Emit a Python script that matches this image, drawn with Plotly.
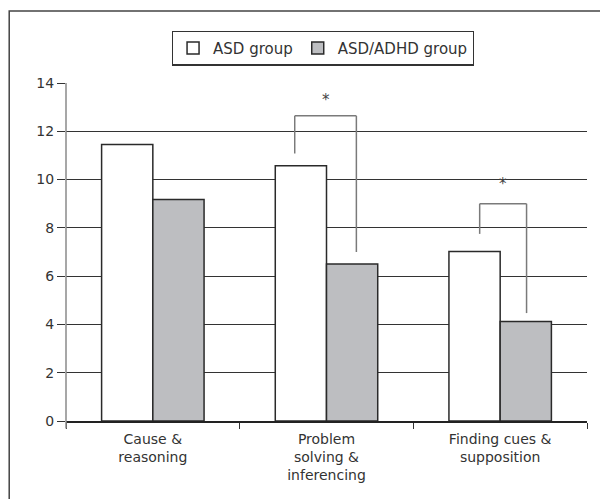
import plotly.graph_objects as go

categories = ["Cause &<br>reasoning", "Problem<br>solving &<br>inferencing", "Finding cues &<br>supposition"]
asd_values = [11.45, 10.57, 7.02]
adhd_values = [9.17, 6.5, 4.12]
series_names = ["ASD group", "ASD/ADHD group"]
y_ticks = [0, 2, 4, 6, 8, 10, 12, 14]

# significance brackets: (category index, left offset, right offset, left-leg bottom, top, right-leg bottom, star y)
brackets = [
    (1, -0.183, 0.172, 11.08, 12.64, 7.0, 13.3),
    (2, -0.118, 0.152, 7.75, 9.0, 4.47, 9.8),
]

FONT = "DejaVu Sans"
TXT = "#333333"

fig = go.Figure()
fig.add_trace(go.Bar(
    x=categories, y=asd_values, name=series_names[0],
    marker=dict(color="white", line=dict(color="#2a2a2a", width=1.5)),
))
fig.add_trace(go.Bar(
    x=categories, y=adhd_values, name=series_names[1],
    marker=dict(color="#bdbec1", line=dict(color="#2a2a2a", width=1.5)),
))

shapes = []
annotations = []
for ci, lo, ro, lb, top, rb, sy in brackets:
    xl, xr = ci + lo, ci + ro
    for (x0, y0, x1, y1) in [(xl, lb, xl, top), (xl, top, xr, top), (xr, top, xr, rb)]:
        shapes.append(dict(type="line", xref="x", yref="y", x0=x0, y0=y0, x1=x1, y1=y1,
                           line=dict(color="#7a7a7a", width=1.5)))
    annotations.append(dict(x=ci + (lo + ro) / 2, y=sy, xref="x", yref="y", text="*",
                            showarrow=False, font=dict(family=FONT, size=15, color="#444444")))

# y-axis line extending slightly below zero
shapes.append(dict(type="line", xref="paper", yref="paper", x0=0, x1=0, y0=-0.022, y1=1,
                   line=dict(color="#8a8a8a", width=1.5)))
# outer frame
shapes.append(dict(type="rect", xref="paper", yref="paper", x0=-0.109, x1=1.2, y0=-0.4, y1=1.213,
                   line=dict(color="#444444", width=1.5), fillcolor="rgba(0,0,0,0)", layer="above"))

fig.update_layout(
    width=600, height=491,
    margin=dict(l=58, r=21, t=75, b=78),
    paper_bgcolor="white", plot_bgcolor="white",
    barmode="group", bargap=0.41, bargroupgap=0,
    font=dict(family=FONT, size=14, color=TXT),
    showlegend=True,
    legend=dict(orientation="h", x=0.493, xanchor="center", y=1.155, yanchor="top",
                bordercolor="#333333", borderwidth=1.2, bgcolor="white",
                font=dict(family=FONT, size=15, color=TXT),
                traceorder="normal"),
    shapes=shapes, annotations=annotations,
)
fig.update_xaxes(
    tickson="boundaries", ticks="outside", ticklen=6, tickcolor="#333333", tickwidth=1.2,
    showline=True, linecolor="#222222", linewidth=1.5, showgrid=False,
    ticklabelstandoff=4,
    tickfont=dict(family=FONT, size=14, color=TXT),
)
fig.update_yaxes(
    range=[0, 14], tickvals=y_ticks, ticks="outside", ticklen=8, tickcolor="#333333", tickwidth=1.2,
    showgrid=True, gridcolor="#333333", gridwidth=1, zeroline=False, showline=False,
    tickfont=dict(family=FONT, size=14, color=TXT),
)

fig.write_html("out.html")
